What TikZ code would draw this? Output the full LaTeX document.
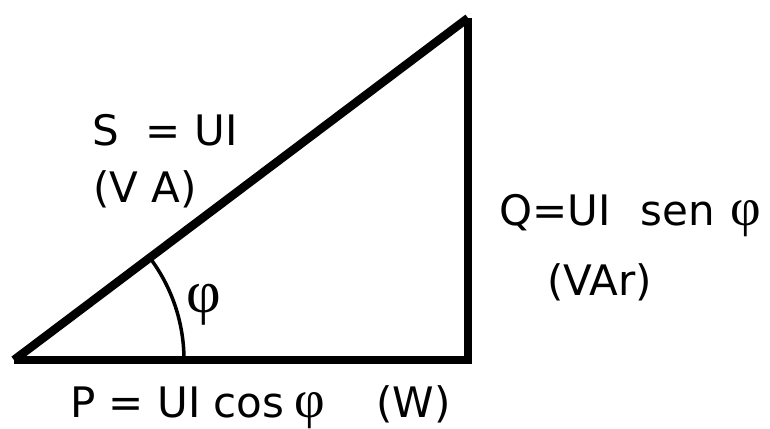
\documentclass[tikz,border=0pt]{standalone}
\usepackage{fontspec}
\usetikzlibrary{calc}
\setmainfont{DejaVu Sans}
\newfontfamily\phifont{Liberation Serif}
\newcommand\myphi{{\fontsize{53bp}{56bp}\phifont φ}}
\begin{document}
\begin{tikzpicture}[x=1bp,y=1bp,
  side/.style={line width=8.5bp, line join=miter},
  anglearc/.style={line width=3.5bp},
  lbl/.style={anchor=base west, inner sep=0pt, font=\fontsize{42bp}{48bp}\selectfont}]
\useasboundingbox (0,0) rectangle (770,428);
\coordinate (A) at (14,68);
\coordinate (B) at (468,68);
\coordinate (C) at (468,410);
\draw[side] (A) -- (B) -- (C);
\draw[side] (A) -- (C);
\draw[anglearc] ($(A)+(170,0)$) arc[start angle=0, end angle=37, radius=170];
\node[lbl] (S) at (92,283) {S\hspace{27bp}= UI};
\node[lbl] (SU) at (93,226) {(V A)};
\node[lbl] (Q) at (499,203) {Q=UI\hspace{30bp}sen\hspace{16bp}\myphi};
\node[lbl] (QU) at (547,133) {(VAr)};
\node[lbl] (P) at (70,11) {P = UI cos\hspace{10bp}\myphi};
\node[lbl] (PU) at (376,11) {(W)};
\node[inner sep=0pt, font=\fontsize{60bp}{64bp}\phifont] (phi) at (204,123) {φ};
\end{tikzpicture}
\end{document}
